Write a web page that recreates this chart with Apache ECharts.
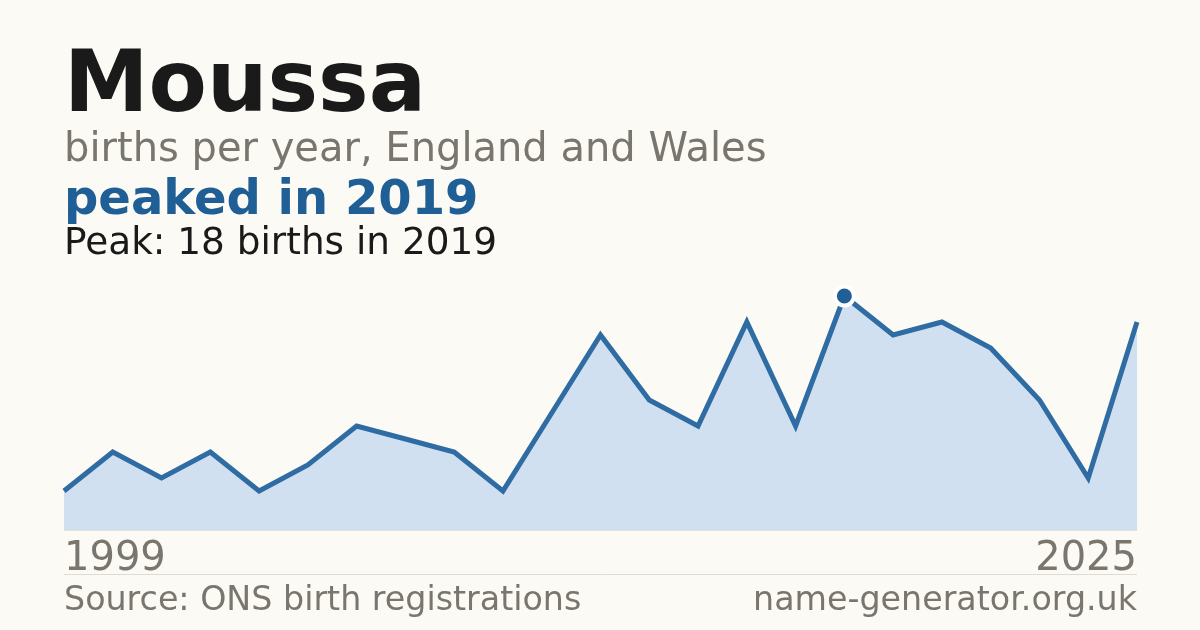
<!DOCTYPE html>
<html>
<head>
<meta charset="utf-8">
<script src="https://cdn.jsdelivr.net/npm/echarts@6/dist/echarts.min.js"></script>
<style>
  html, body { margin: 0; padding: 0; background: #fbfaf5; }
  #container { width: 1200px; height: 630px; }
</style>
</head>
<body>
<div id="container"></div>
<script>
// years with registrations (a few early years have no record)
var years = ['1999', '2000', '2001', '2002', '2003', '2004', '2005', '2007', '2008', '2010',
    '2011', '2012', '2014', '2015', '2016', '2018', '2019', '2020', '2021', '2022',
    '2023', '2024', '2025'];
var births = [3, 6, 4, 6, 3, 5, 8, 7, 6, 3, 9, 15, 10, 8, 16, 8, 18, 15, 16, 14, 10, 4, 16];

var font = 'DejaVu Sans';
var grey = '#7a766e';
var blue = '#1f5f96';

var myChart = echarts.init(document.getElementById('container'));

var option = {
    backgroundColor: '#fbfaf5',
    animation: false,
    grid: { left: 64, right: 63, top: 296, bottom: 100 },
    xAxis: {
        type: 'category',
        data: years,
        boundaryGap: false,
        axisTick: { show: false },
        axisLine: { show: true, lineStyle: { color: '#e2e0da', width: 1 } },
        axisLabel: {
            interval: function (i) { return i === 0 || i === years.length - 1; },
            color: grey,
            fontFamily: font,
            fontSize: 40,
            margin: 10,
            alignMinLabel: 'left',
            alignMaxLabel: 'right'
        }
    },
    yAxis: {
        type: 'value',
        min: 0,
        max: 18,
        show: false,
        splitLine: { show: false }
    },
    series: [
        {
            type: 'line',
            data: births,
            symbol: 'none',
            lineStyle: { color: '#2e6ca3', width: 5, cap: 'butt', join: 'miter' },
            areaStyle: { color: '#d0e0f0', opacity: 1 },
            markPoint: {
                symbol: 'circle',
                symbolSize: 19,
                label: { show: false },
                itemStyle: { color: '#215f96', borderColor: '#ffffff', borderWidth: 4 },
                data: [{ type: 'max' }]
            }
        }
    ],
    graphic: [
        {
            type: 'text', x: 64, y: 89,
            style: { text: 'Moussa', fontFamily: font, fontWeight: 'bold', fontSize: 85,
                fill: '#1a1a1a', verticalAlign: 'middle' }
        },
        {
            type: 'text', x: 64, y: 151,
            style: { text: 'births per year, England and Wales', fontFamily: font, fontSize: 40,
                fill: grey, verticalAlign: 'middle' }
        },
        {
            type: 'text', x: 64, y: 202,
            style: { text: 'peaked in 2019', fontFamily: font, fontWeight: 'bold', fontSize: 48,
                fill: blue, verticalAlign: 'middle' }
        },
        {
            type: 'text', x: 64, y: 244,
            style: { text: 'Peak: 18 births in 2019', fontFamily: font, fontSize: 37.4,
                fill: '#1a1a1a', verticalAlign: 'middle' }
        },
        {
            type: 'line',
            shape: { x1: 64, y1: 574.5, x2: 1137, y2: 574.5 },
            style: { stroke: '#dedbd4', lineWidth: 1 }
        },
        {
            type: 'text', x: 64, y: 601,
            style: { text: 'Source: ONS birth registrations', fontFamily: font, fontSize: 33.3,
                fill: grey, verticalAlign: 'middle' }
        },
        {
            type: 'text', x: 1137, y: 601,
            style: { text: 'name-generator.org.uk', fontFamily: font, fontSize: 33.3,
                fill: grey, align: 'right', verticalAlign: 'middle' }
        }
    ]
};

myChart.setOption(option);
</script>
</body>
</html>
